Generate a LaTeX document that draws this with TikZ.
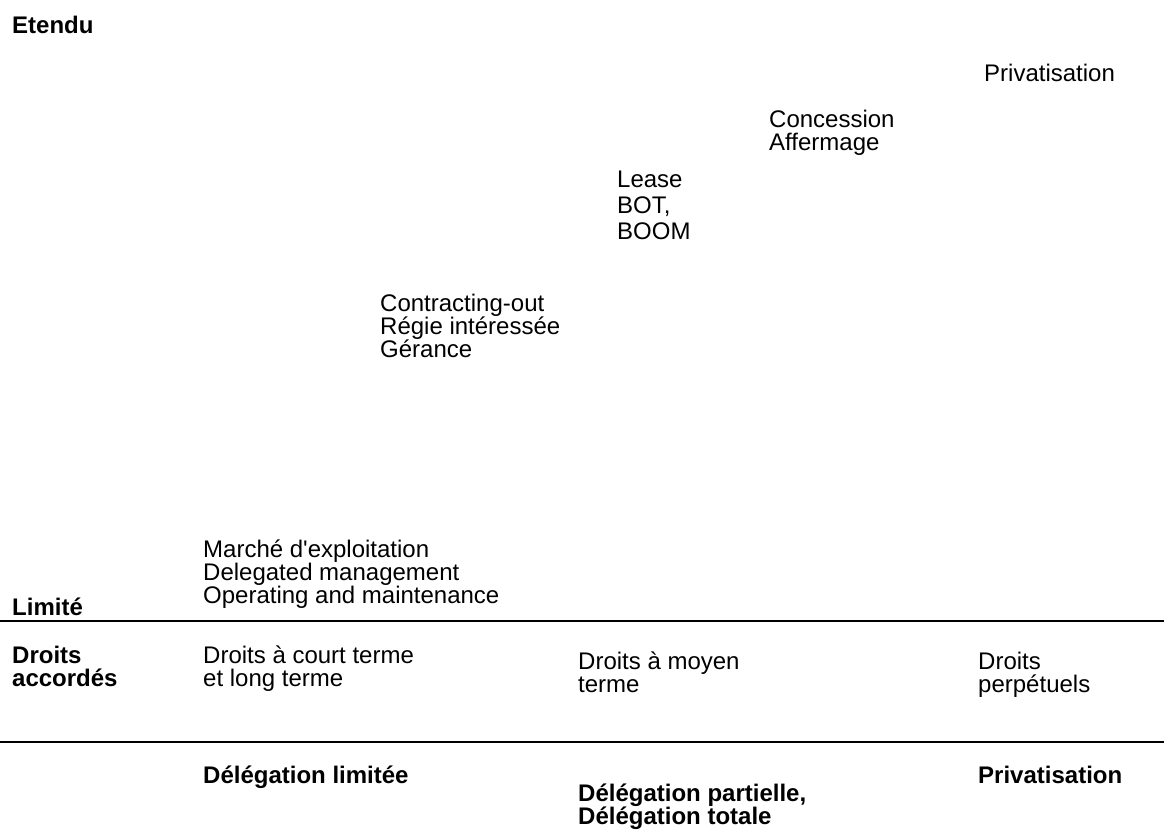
\documentclass[tikz,border=0pt]{standalone}
\usepackage{fontspec}
\setmainfont{Liberation Sans}
\begin{document}
\begin{tikzpicture}[x=1pt,y=-1pt,
  txt/.style={anchor=north west, inner sep=0pt, align=left, font=\fontsize{24}{23}\selectfont},
  btxt/.style={txt, font=\fontsize{24}{23}\selectfont\bfseries},
  rule/.style={line width=1.8pt, black}]
\useasboundingbox[fill=white] (0,0) rectangle (1164,840);
\newcommand{\fs}{\rule{0pt}{19pt}}
% y positions: node top = baseline - 19
\node[btxt] (etendu) at (12,14) {\fs Etendu};
\node[txt] (priv) at (984,62) {\fs Privatisation};
\node[txt] (conc) at (769,108) {\fs Concession\\Affermage};
\node[txt, font=\fontsize{24}{26}\selectfont] (lease) at (617,168) {\fs Lease\\BOT,\\BOOM};
\node[txt] (contr) at (380,292) {\fs Contracting-out\\Régie intéressée\\Gérance};
\node[txt] (marche) at (203,538) {\fs Marché d\textquotesingle exploitation\\Delegated management\\Operating and maintenance};
\node[btxt] (limite) at (12,596) {\fs Limité};
\coordinate (l1a) at (0,621);
\coordinate (l1b) at (1164,621);
\draw[rule] (l1a) -- (l1b);
\node[btxt] (droits) at (12,644) {\fs Droits\\accordés};
\node[txt] (court) at (203,644) {\fs Droits à court terme\\et long terme};
\node[txt] (moyen) at (578,650) {\fs Droits à moyen\\terme};
\node[txt] (perp) at (978,650) {\fs Droits\\perpétuels};
\coordinate (l2a) at (0,742);
\coordinate (l2b) at (1164,742);
\draw[rule] (l2a) -- (l2b);
\node[btxt] (dlim) at (203,764) {\fs Délégation limitée};
\node[btxt] (dpart) at (578,782) {\fs Délégation partielle,\\Délégation totale};
\node[btxt] (dpriv) at (978,764) {\fs Privatisation};
\end{tikzpicture}
\end{document}
